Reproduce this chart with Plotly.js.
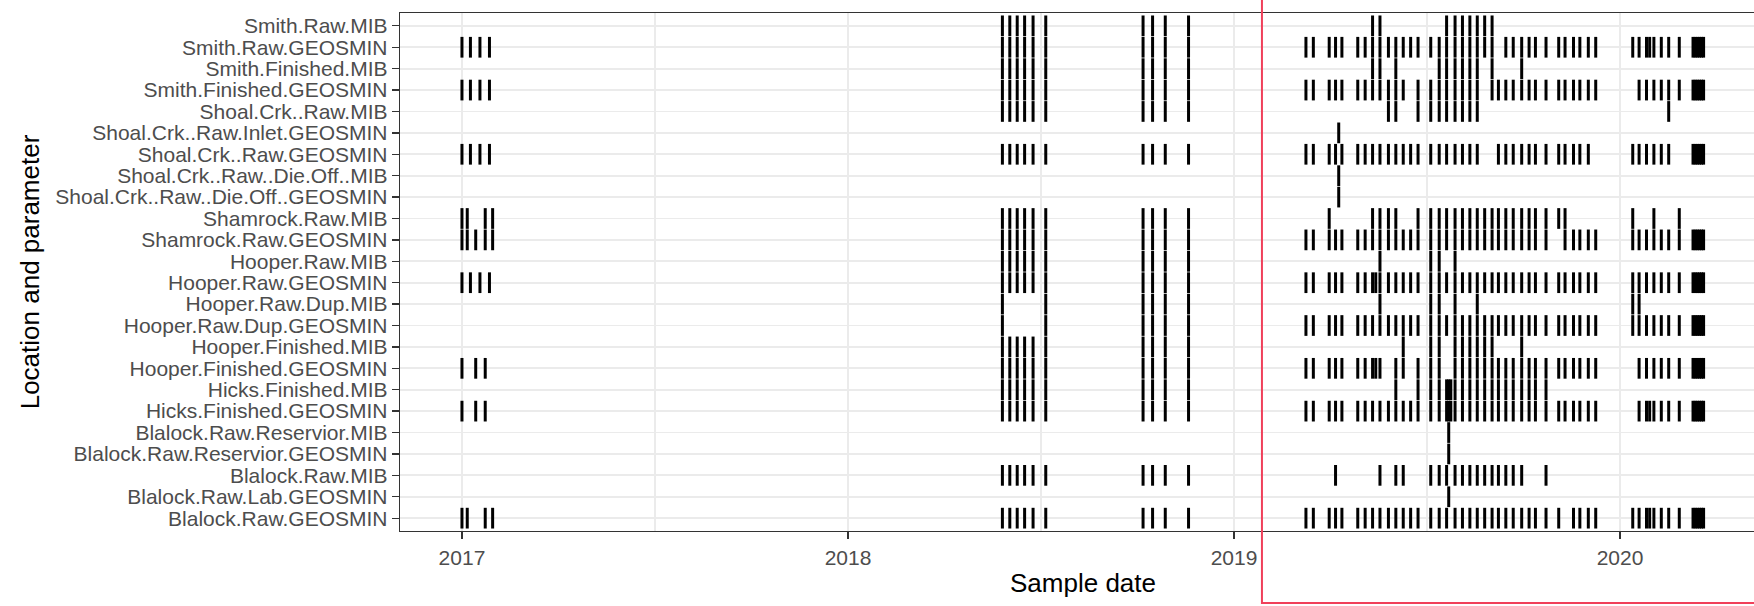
<!DOCTYPE html>
<html><head><meta charset="utf-8">
<script src="https://cdn.plot.ly/plotly-3.0.1.min.js"></script>
<style>html,body{margin:0;padding:0;overflow:hidden;background:#fff}#chart{width:1790px;height:606px}</style>
</head><body><div id="chart"></div>
<script>
// ---- categories (top to bottom) ----
const categories = [
  'Smith.Raw.MIB','Smith.Raw.GEOSMIN','Smith.Finished.MIB','Smith.Finished.GEOSMIN',
  'Shoal.Crk..Raw.MIB','Shoal.Crk..Raw.Inlet.GEOSMIN','Shoal.Crk..Raw.GEOSMIN',
  'Shoal.Crk..Raw..Die.Off..MIB','Shoal.Crk..Raw..Die.Off..GEOSMIN',
  'Shamrock.Raw.MIB','Shamrock.Raw.GEOSMIN','Hooper.Raw.MIB','Hooper.Raw.GEOSMIN',
  'Hooper.Raw.Dup.MIB','Hooper.Raw.Dup.GEOSMIN','Hooper.Finished.MIB','Hooper.Finished.GEOSMIN',
  'Hicks.Finished.MIB','Hicks.Finished.GEOSMIN','Blalock.Raw.Reservior.MIB',
  'Blalock.Raw.Reservior.GEOSMIN','Blalock.Raw.MIB','Blalock.Raw.Lab.GEOSMIN','Blalock.Raw.GEOSMIN'
];

// ---- shared sampling campaigns ----
const spring2018 = ['2018-05-27','2018-06-03','2018-06-10','2018-06-17','2018-06-25','2018-07-07'];
const fall2018   = ['2018-10-07','2018-10-16','2018-10-28','2018-11-19'];
const jan2017    = ['2017-01-01','2017-01-09','2017-01-18','2017-01-27'];
const mar2020    = ['2020-03-10','2020-03-12','2020-03-14','2020-03-16','2020-03-18','2020-03-20'];

// ---- sample dates per category ----
const smithRawMIB = [...spring2018, ...fall2018,
  '2019-05-12','2019-05-19','2019-07-21','2019-07-29','2019-08-05','2019-08-12','2019-08-19','2019-08-26','2019-09-02'];
const smithRawGEOSMIN = [...jan2017, ...spring2018, ...fall2018,
  '2019-03-10','2019-03-17','2019-04-01','2019-04-07','2019-04-13','2019-04-28','2019-05-05','2019-05-12','2019-05-19','2019-05-27',
  '2019-06-03','2019-06-10','2019-06-17','2019-06-24','2019-07-06','2019-07-14','2019-07-21','2019-07-29','2019-08-05','2019-08-12',
  '2019-08-19','2019-08-26','2019-09-02','2019-09-15','2019-09-22','2019-09-30','2019-10-07','2019-10-13','2019-10-23','2019-11-04',
  '2019-11-10','2019-11-18','2019-11-24','2019-12-02','2019-12-09',
  '2020-01-13','2020-01-19','2020-01-26','2020-01-29','2020-02-02','2020-02-09','2020-02-16','2020-02-26', ...mar2020];
const smithFinishedMIB = [...spring2018, ...fall2018,
  '2019-05-12','2019-05-19','2019-06-03','2019-07-14','2019-07-21','2019-07-29','2019-08-05','2019-08-12','2019-08-19','2019-09-02','2019-09-30'];
const smithFinishedGEOSMIN = [...jan2017, ...spring2018, ...fall2018,
  '2019-03-10','2019-03-17','2019-04-01','2019-04-07','2019-04-13','2019-04-28','2019-05-05','2019-05-12','2019-05-19','2019-05-27',
  '2019-06-03','2019-06-10','2019-06-24','2019-07-06','2019-07-14','2019-07-21','2019-07-29','2019-08-05','2019-08-12','2019-08-19',
  '2019-09-02','2019-09-08','2019-09-15','2019-09-22','2019-09-30','2019-10-07','2019-10-13','2019-10-23','2019-11-04','2019-11-10',
  '2019-11-18','2019-11-24','2019-12-02','2019-12-09',
  '2020-01-19','2020-01-26','2020-02-02','2020-02-09','2020-02-16','2020-02-26', ...mar2020];
const shoalRawMIB = [...spring2018, ...fall2018,
  '2019-05-27','2019-06-03','2019-06-24','2019-07-06','2019-07-14','2019-07-21','2019-07-29','2019-08-05','2019-08-12','2019-08-19',
  '2020-02-16'];
const shoalRawInletGEOSMIN = ['2019-04-10'];
const shoalRawGEOSMIN = [...jan2017, ...spring2018, ...fall2018,
  '2019-03-10','2019-03-17','2019-04-01','2019-04-07','2019-04-13','2019-04-28','2019-05-05','2019-05-12','2019-05-19','2019-05-27',
  '2019-06-03','2019-06-10','2019-06-17','2019-06-24','2019-07-06','2019-07-14','2019-07-21','2019-07-29','2019-08-05','2019-08-12',
  '2019-08-19','2019-09-08','2019-09-15','2019-09-22','2019-09-30','2019-10-07','2019-10-13','2019-10-23','2019-11-04','2019-11-10',
  '2019-11-18','2019-11-24','2019-12-02',
  '2020-01-13','2020-01-19','2020-01-26','2020-02-02','2020-02-09','2020-02-16', ...mar2020];
const shoalDieOffMIB = ['2019-04-10'];
const shoalDieOffGEOSMIN = ['2019-04-10'];
const shamrockRawMIB = ['2017-01-01','2017-01-06','2017-01-23','2017-01-30', ...spring2018, ...fall2018,
  '2019-04-01','2019-05-12','2019-05-19','2019-05-27','2019-06-03','2019-06-24','2019-07-06','2019-07-14','2019-07-21','2019-07-29',
  '2019-08-05','2019-08-12','2019-08-19','2019-08-26','2019-09-02','2019-09-08','2019-09-15','2019-09-22','2019-09-30','2019-10-07',
  '2019-10-13','2019-10-23','2019-11-04','2019-11-10',
  '2020-01-13','2020-02-02','2020-02-26'];
const shamrockRawGEOSMIN = ['2017-01-01','2017-01-06','2017-01-14','2017-01-23','2017-01-30', ...spring2018, ...fall2018,
  '2019-03-10','2019-03-17','2019-04-01','2019-04-07','2019-04-13','2019-04-28','2019-05-05','2019-05-12','2019-05-19','2019-05-27',
  '2019-06-03','2019-06-10','2019-06-17','2019-06-24','2019-07-06','2019-07-14','2019-07-21','2019-07-29','2019-08-05','2019-08-12',
  '2019-08-19','2019-08-26','2019-09-02','2019-09-08','2019-09-15','2019-09-22','2019-09-30','2019-10-07','2019-10-13','2019-10-23',
  '2019-11-10','2019-11-18','2019-11-24','2019-12-02','2019-12-09',
  '2020-01-13','2020-01-19','2020-01-26','2020-02-02','2020-02-09','2020-02-16','2020-02-26', ...mar2020];
const hooperRawMIB = [...spring2018, ...fall2018, '2019-05-19','2019-07-06','2019-07-14','2019-07-29'];
const hooperRawGEOSMIN = [...jan2017, ...spring2018, ...fall2018,
  '2019-03-10','2019-03-17','2019-04-01','2019-04-07','2019-04-13','2019-04-28','2019-05-05','2019-05-12','2019-05-15','2019-05-19',
  '2019-05-27','2019-06-03','2019-06-10','2019-06-17','2019-06-24','2019-07-06','2019-07-14','2019-07-21','2019-07-29','2019-08-05',
  '2019-08-12','2019-08-19','2019-08-26','2019-09-02','2019-09-08','2019-09-15','2019-09-22','2019-09-30','2019-10-07','2019-10-13',
  '2019-10-23','2019-11-04','2019-11-10','2019-11-18','2019-11-24','2019-12-02','2019-12-09',
  '2020-01-13','2020-01-19','2020-01-26','2020-02-02','2020-02-09','2020-02-16','2020-02-26', ...mar2020];
const hooperDupMIB = ['2018-05-27','2018-07-07', ...fall2018,
  '2019-05-19','2019-07-06','2019-07-14','2019-07-29','2019-08-19','2020-01-13','2020-01-19'];
const hooperDupGEOSMIN = ['2018-05-27','2018-07-07', ...fall2018,
  '2019-03-10','2019-03-17','2019-04-01','2019-04-07','2019-04-13','2019-04-28','2019-05-05','2019-05-12','2019-05-19','2019-05-27',
  '2019-06-03','2019-06-10','2019-06-17','2019-06-24','2019-07-06','2019-07-14','2019-07-21','2019-07-29','2019-08-05','2019-08-12',
  '2019-08-19','2019-08-26','2019-09-02','2019-09-08','2019-09-15','2019-09-22','2019-09-30','2019-10-07','2019-10-13','2019-10-23',
  '2019-11-04','2019-11-10','2019-11-18','2019-11-24','2019-12-02','2019-12-09',
  '2020-01-13','2020-01-19','2020-01-26','2020-02-02','2020-02-09','2020-02-16','2020-02-26', ...mar2020];
const hooperFinishedMIB = [...spring2018, ...fall2018,
  '2019-06-10','2019-07-06','2019-07-14','2019-07-29','2019-08-05','2019-08-12','2019-08-19','2019-08-26','2019-09-02','2019-09-30'];
const hooperFinishedGEOSMIN = ['2017-01-01','2017-01-14','2017-01-23', ...spring2018, ...fall2018,
  '2019-03-10','2019-03-17','2019-04-01','2019-04-07','2019-04-13','2019-04-28','2019-05-05','2019-05-12','2019-05-15','2019-05-19',
  '2019-06-03','2019-06-10','2019-06-24','2019-07-06','2019-07-14','2019-07-29','2019-08-05','2019-08-12','2019-08-19','2019-08-26',
  '2019-09-02','2019-09-08','2019-09-15','2019-09-22','2019-09-30','2019-10-07','2019-10-13','2019-10-23','2019-11-04','2019-11-10',
  '2019-11-18','2019-11-24','2019-12-02','2019-12-09',
  '2020-01-19','2020-01-26','2020-02-02','2020-02-09','2020-02-16','2020-02-26', ...mar2020];
const hicksFinishedMIB = [...spring2018, ...fall2018,
  '2019-06-03','2019-06-24','2019-07-06','2019-07-14','2019-07-21','2019-07-23','2019-07-25','2019-07-29','2019-08-05','2019-08-12',
  '2019-08-19','2019-08-26','2019-09-02','2019-09-08','2019-09-15','2019-09-22','2019-09-30','2019-10-07','2019-10-13','2019-10-23'];
const hicksFinishedGEOSMIN = ['2017-01-01','2017-01-14','2017-01-23', ...spring2018, ...fall2018,
  '2019-03-10','2019-03-17','2019-04-01','2019-04-07','2019-04-13','2019-04-28','2019-05-05','2019-05-12','2019-05-19','2019-05-27',
  '2019-06-03','2019-06-10','2019-06-17','2019-06-24','2019-07-06','2019-07-14','2019-07-21','2019-07-23','2019-07-25','2019-07-29',
  '2019-08-05','2019-08-12','2019-08-19','2019-08-26','2019-09-02','2019-09-08','2019-09-15','2019-09-22','2019-09-30','2019-10-07',
  '2019-10-13','2019-10-23','2019-11-04','2019-11-10','2019-11-18','2019-11-24','2019-12-02','2019-12-09',
  '2020-01-19','2020-01-26','2020-01-29','2020-02-02','2020-02-09','2020-02-16','2020-02-26', ...mar2020];
const blalockReservoirMIB = ['2019-07-23'];
const blalockReservoirGEOSMIN = ['2019-07-23'];
const blalockRawMIB = [...spring2018, ...fall2018,
  '2019-04-07','2019-05-19','2019-06-03','2019-06-10','2019-07-06','2019-07-14','2019-07-21','2019-07-29','2019-08-05','2019-08-12',
  '2019-08-19','2019-08-26','2019-09-02','2019-09-08','2019-09-15','2019-09-22','2019-09-30','2019-10-23'];
const blalockLabGEOSMIN = ['2019-07-23'];
const blalockRawGEOSMIN = ['2017-01-01','2017-01-06','2017-01-23','2017-01-30', ...spring2018, ...fall2018,
  '2019-03-10','2019-03-17','2019-04-01','2019-04-07','2019-04-13','2019-04-28','2019-05-05','2019-05-12','2019-05-19','2019-05-27',
  '2019-06-03','2019-06-10','2019-06-17','2019-06-24','2019-07-06','2019-07-14','2019-07-21','2019-07-29','2019-08-05','2019-08-12',
  '2019-08-19','2019-08-26','2019-09-02','2019-09-08','2019-09-15','2019-09-22','2019-09-30','2019-10-07','2019-10-13','2019-10-23',
  '2019-11-04','2019-11-18','2019-11-24','2019-12-02','2019-12-09',
  '2020-01-13','2020-01-19','2020-01-26','2020-01-29','2020-02-02','2020-02-09','2020-02-16','2020-02-26', ...mar2020];

const datesByCategory = [
  smithRawMIB, smithRawGEOSMIN, smithFinishedMIB, smithFinishedGEOSMIN,
  shoalRawMIB, shoalRawInletGEOSMIN, shoalRawGEOSMIN, shoalDieOffMIB, shoalDieOffGEOSMIN,
  shamrockRawMIB, shamrockRawGEOSMIN, hooperRawMIB, hooperRawGEOSMIN,
  hooperDupMIB, hooperDupGEOSMIN, hooperFinishedMIB, hooperFinishedGEOSMIN,
  hicksFinishedMIB, hicksFinishedGEOSMIN, blalockReservoirMIB, blalockReservoirGEOSMIN,
  blalockRawMIB, blalockLabGEOSMIN, blalockRawGEOSMIN
];

const yearTicks = ['2017-01-01','2018-01-01','2019-01-01','2020-01-01'];
const yearLabels = ['2017','2018','2019','2020'];
const midYearTicks = ['2017-07-02 12:00','2018-07-02 12:00','2019-07-02 12:00'];

// ---- build trace ----
const xs = [], ys = [];
datesByCategory.forEach((arr, i) => arr.forEach(d => { xs.push(d); ys.push(categories[i]); }));

const FONT = 'Liberation Sans, Arial, sans-serif';
const trace = {
  type: 'scatter', mode: 'markers', x: xs, y: ys,
  marker: {symbol: 'line-ns', size: 14.8, color: '#000', line: {width: 3, color: '#000'}},
  hoverinfo: 'skip', cliponaxis: true
};

const layout = {
  width: 1790, height: 606,
  margin: {l: 400, r: 24, t: 13, b: 75},
  paper_bgcolor: '#fff', plot_bgcolor: '#fff',
  showlegend: false,
  font: {family: FONT, color: '#000'},
  xaxis: {
    type: 'date', range: ['2016-11-03 10:00', '2020-05-18'],
    tickmode: 'array', tickvals: yearTicks, ticktext: yearLabels,
    showgrid: true, gridcolor: '#EBEBEB', gridwidth: 1.8,
    minor: {tickmode: 'array', tickvals: midYearTicks, showgrid: true, gridcolor: '#EBEBEB', gridwidth: 1.1, ticks: ''},
    showline: true, linecolor: '#333333', linewidth: 1.3, mirror: true,
    ticks: 'outside', ticklen: 7, tickwidth: 1.3, tickcolor: '#333333',
    tickfont: {family: FONT, size: 21, color: '#4D4D4D'},
    zeroline: false,
    title: {text: 'Sample date', font: {family: FONT, size: 26, color: '#000'}, standoff: 6}
  },
  yaxis: {
    type: 'category', categoryorder: 'array', categoryarray: categories,
    tickmode: 'array', tickvals: categories, ticktext: categories,
    range: [23.6, -0.6],
    showgrid: true, gridcolor: '#EBEBEB', gridwidth: 1.8,
    showline: true, linecolor: '#333333', linewidth: 1.3, mirror: false,
    ticks: 'outside', ticklen: 7, tickwidth: 1.3, tickcolor: '#333333',
    tickfont: {family: FONT, size: 21, color: '#4D4D4D'},
    zeroline: false,
    title: {text: 'Location and parameter', font: {family: FONT, size: 26, color: '#000'}, standoff: 8}
  },
  shapes: [{
    type: 'rect', xref: 'paper', yref: 'paper',
    x0: 0.631, x1: 1.05, y0: -0.139, y1: 1.1,
    line: {color: '#F0405A', width: 2}, fillcolor: 'rgba(0,0,0,0)', layer: 'above'
  }]
};

Plotly.newPlot('chart', [trace], layout, {staticPlot: true, displayModeBar: false});
</script></body></html>
